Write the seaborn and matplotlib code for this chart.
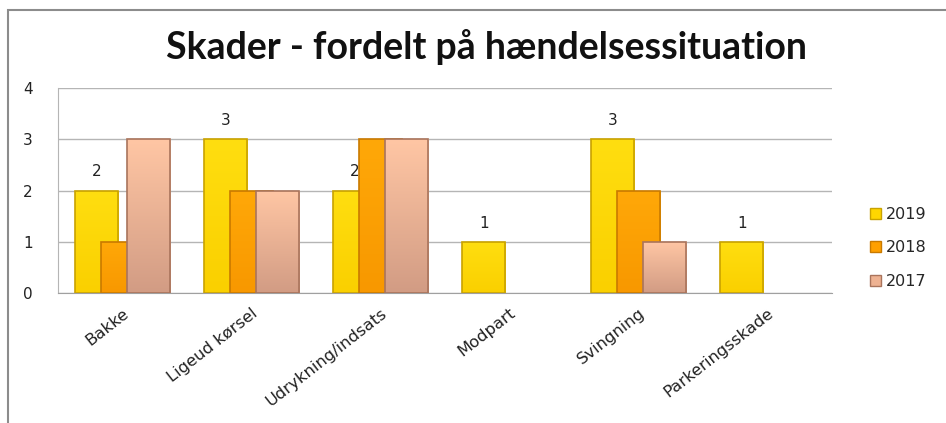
import numpy as np
import pandas as pd
import matplotlib
matplotlib.use("Agg")
import matplotlib.pyplot as plt
from matplotlib.patches import Rectangle
from matplotlib.colors import LinearSegmentedColormap
import seaborn as sns

categories = ["Bakke", "Ligeud kørsel", "Udrykning/indsats", "Modpart", "Svingning", "Parkeringsskade"]
years = ["2019", "2018", "2017"]
v2019 = [2, 3, 2, 1, 3, 1]
v2018 = [1, 2, 3, np.nan, 2, np.nan]
v2017 = [3, 2, 3, np.nan, 1, np.nan]

colors = {"2019": "#FFD600", "2018": "#FFA000", "2017": "#EEB292"}
# top -> bottom shading to mimic the Excel bevel look
shades = {"2019": ("#FFDE10", "#FAD000"), "2018": ("#FFA808", "#F89800"),
          "2017": ("#FFC6A4", "#D29C84")}
edges = {"2019": "#C9A200", "2018": "#C97A00", "2017": "#A9745C"}

df = pd.DataFrame({
    "Kategori": categories * 3,
    "År": ["2019"] * 6 + ["2018"] * 6 + ["2017"] * 6,
    "Antal": v2019 + v2018 + v2017,
})

sns.set_style("white")
plt.rcParams["font.family"] = ["DejaVu Sans"]

fig = plt.figure(figsize=(9.46, 4.23), dpi=100)
ax = fig.add_axes([0.0613, 0.3073, 0.8182, 0.4846])

sns.barplot(data=df, x="Kategori", y="Antal", hue="År", hue_order=years,
            palette=colors, saturation=1, dodge=True, width=0.6, ax=ax, legend=True)

# Excel-style overlapping bars: widen each bar around its center, add shading
bar_w = 0.335
grad = np.linspace(0, 1, 64).reshape(-1, 1)
for i, (year, cont) in enumerate(zip(years, ax.containers)):
    cmap = LinearSegmentedColormap.from_list(year, shades[year])
    z = 2 + i
    for p in cont.patches:
        h = p.get_height()
        if not np.isfinite(h) or h == 0:
            continue
        cx = p.get_x() + p.get_width() / 2
        p.set_x(cx - bar_w / 2)
        p.set_width(bar_w)
        p.set_facecolor("none")
        p.set_edgecolor(edges[year])
        p.set_linewidth(1.2)
        p.set_zorder(z + 0.2)
        im = ax.imshow(grad, cmap=cmap, aspect="auto", zorder=z,
                       extent=(p.get_x(), p.get_x() + bar_w, 0, h), interpolation="bilinear")
        im.set_clip_path(p)

ax.set_ylim(0, 4)
ax.set_xlim(-0.5, len(categories) - 0.5)

# data labels only for 2019
ax.bar_label(ax.containers[0], labels=[str(v) for v in v2019], padding=8,
             fontsize=11, color="#222222")

ax.set_yticks([0, 1, 2, 3, 4])
ax.yaxis.grid(True, color="#B5B5B5", linewidth=1)
ax.set_axisbelow(True)
ax.set_xlabel("")
ax.set_ylabel("")
for s in ["top", "right"]:
    ax.spines[s].set_visible(False)
ax.spines["left"].set_color("#B5B5B5")
ax.spines["bottom"].set_color("#A0A0A0")
ax.tick_params(axis="y", length=0, pad=18, labelsize=11, colors="#222222")
ax.tick_params(axis="x", length=0, pad=9, labelsize=11.8, colors="#222222")
plt.setp(ax.get_xticklabels(), rotation=38, ha="right", rotation_mode="anchor")

leg = ax.legend(loc="center left", bbox_to_anchor=(1.03, 0.22), frameon=False,
                fontsize=11.5, handlelength=0.7, handleheight=0.7,
                handletextpad=0.3, labelspacing=1.15)
for h, year in zip(leg.legend_handles, years):
    h.set_facecolor(colors[year])
    h.set_edgecolor(edges[year])

fig.text(0.514, 0.889, "Skader - fordelt på hændelsessituation", ha="center",
         va="center", fontsize=27, fontweight="bold", family="Lato", color="#111111")

fig.add_artist(Rectangle((8 / 946, -0.1), 1.2, 1.1 - 10 / 423, transform=fig.transFigure,
                         fill=False, edgecolor="#8C8C8C", linewidth=1.5))

fig.savefig("out.png", dpi=100)
